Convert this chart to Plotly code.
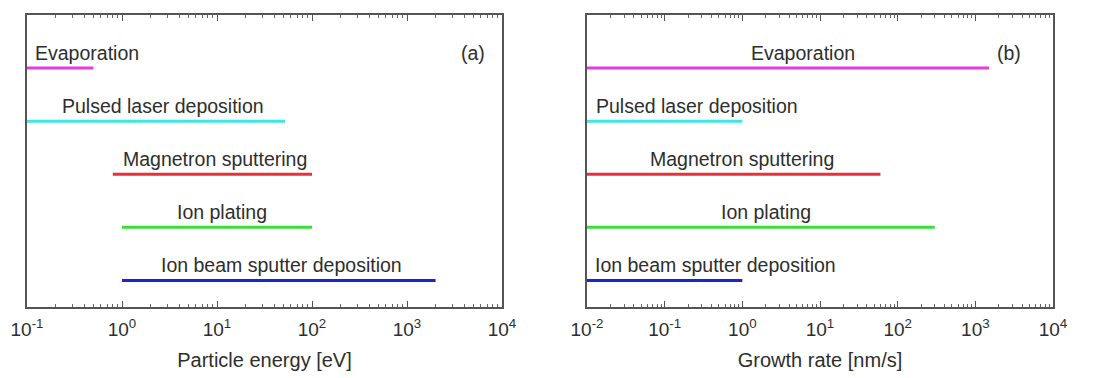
import plotly.graph_objects as go

# ---- data ----
methods = ["Evaporation", "Pulsed laser deposition", "Magnetron sputtering",
           "Ion plating", "Ion beam sputter deposition"]
energy_min = [0.1, 0.1, 0.8, 1.0, 1.0]          # eV
energy_max = [0.5, 52, 100, 100, 2000]          # eV
rate_min = [0.01, 0.01, 0.01, 0.01, 0.01]       # nm/s
rate_max = [1500, 1.0, 60, 300, 1.0]            # nm/s
colors = ["#e23de2", "#3fe6e6", "#e8303a", "#38e038", "#1a24d0"]
levels = [5, 4, 3, 2, 1]

tick_a = [0.1, 1, 10, 100, 1000, 10000]
tick_a_txt = ["10<sup>-1</sup>", "10<sup>0</sup>", "10<sup>1</sup>",
              "10<sup>2</sup>", "10<sup>3</sup>", "10<sup>4</sup>"]
tick_b = [0.01, 0.1, 1, 10, 100, 1000, 10000]
tick_b_txt = ["10<sup>-2</sup>", "10<sup>-1</sup>", "10<sup>0</sup>", "10<sup>1</sup>",
              "10<sup>2</sup>", "10<sup>3</sup>", "10<sup>4</sup>"]
minor_mult = [2, 3, 4, 5, 6, 7, 8, 9]

# label anchor positions (log10 of x, styling only)
lab_a = [-0.37, 0.43, 0.98, 1.05, 1.68]
lab_b = [0.78, -0.58, 0.0, 0.30, -0.34]

FONT = "Liberation Sans, Arial, sans-serif"
TXT = "#2e2e2e"
LAB = 19.5
W, H = 1094, 378
OFF = 8  # page body margin offset

def px(x):
    return (x - OFF) / W

def py(y):
    return 1 - (y - OFF) / H

fig = go.Figure()
for i, m in enumerate(methods):
    fig.add_trace(go.Scatter(x=[energy_min[i], energy_max[i]], y=[levels[i], levels[i]],
                             mode="lines", line=dict(color=colors[i], width=3),
                             xaxis="x", yaxis="y", showlegend=False, hoverinfo="skip"))
    fig.add_trace(go.Scatter(x=[rate_min[i], rate_max[i]], y=[levels[i], levels[i]],
                             mode="lines", line=dict(color=colors[i], width=3),
                             xaxis="x2", yaxis="y2", showlegend=False, hoverinfo="skip"))

ann = []
for i, m in enumerate(methods):
    ann.append(dict(text=m, x=lab_a[i], y=levels[i], xref="x", yref="y", yshift=15,
                    showarrow=False, font=dict(size=LAB, color=TXT, family=FONT)))
    ann.append(dict(text=m, x=lab_b[i], y=levels[i], xref="x2", yref="y2", yshift=15,
                    showarrow=False, font=dict(size=LAB, color=TXT, family=FONT)))
ann.append(dict(text="(a)", x=px(473), y=py(40), xref="paper", yref="paper",
                showarrow=False, font=dict(size=LAB, color=TXT, family=FONT)))
ann.append(dict(text="(b)", x=px(1023), y=py(40), xref="paper", yref="paper",
                showarrow=False, font=dict(size=LAB, color=TXT, family=FONT)))

ydom = [py(307), py(15)]

def minor_vals(tv):
    return [t * k for t in tv[:-1] for k in minor_mult]

def xaxis_common(tv, tt, title):
    return dict(type="log", tickmode="array", tickvals=tv, ticktext=tt, ticks="inside",
                ticklen=6, tickwidth=1.2, tickcolor="#555", showline=True, linecolor="#555",
                linewidth=1.5, mirror="allticks", showgrid=False, zeroline=False,
                automargin=False, ticklabelstandoff=4,
                minor=dict(tickmode="array", tickvals=minor_vals(tv), ticks="inside",
                           ticklen=3, tickwidth=1, tickcolor="#666", showgrid=False),
                tickfont=dict(size=19, color=TXT, family=FONT),
                title=dict(text=title, font=dict(size=20, color=TXT, family=FONT), standoff=14))

fig.update_layout(
    width=W, height=H, margin=dict(l=0, r=0, t=0, b=0, autoexpand=False),
    paper_bgcolor="white", plot_bgcolor="white",
    xaxis=dict(domain=[px(27), px(502)], range=[-1, 4], anchor="y",
               **xaxis_common(tick_a, tick_a_txt, "Particle energy [eV]")),
    yaxis=dict(domain=ydom, range=[0.5, 6], showticklabels=False, ticks="",
               showgrid=False, zeroline=False, showline=True, linecolor="#555",
               linewidth=1.5, mirror=True, anchor="x", automargin=False),
    xaxis2=dict(domain=[px(587), px(1053)], range=[-2, 4], anchor="y2",
                **xaxis_common(tick_b, tick_b_txt, "Growth rate [nm/s]")),
    yaxis2=dict(domain=ydom, range=[0.5, 6], showticklabels=False, ticks="",
                showgrid=False, zeroline=False, showline=True, linecolor="#555",
                linewidth=1.5, mirror=True, anchor="x2", automargin=False),
    annotations=ann,
)

fig.write_html("out.html")
